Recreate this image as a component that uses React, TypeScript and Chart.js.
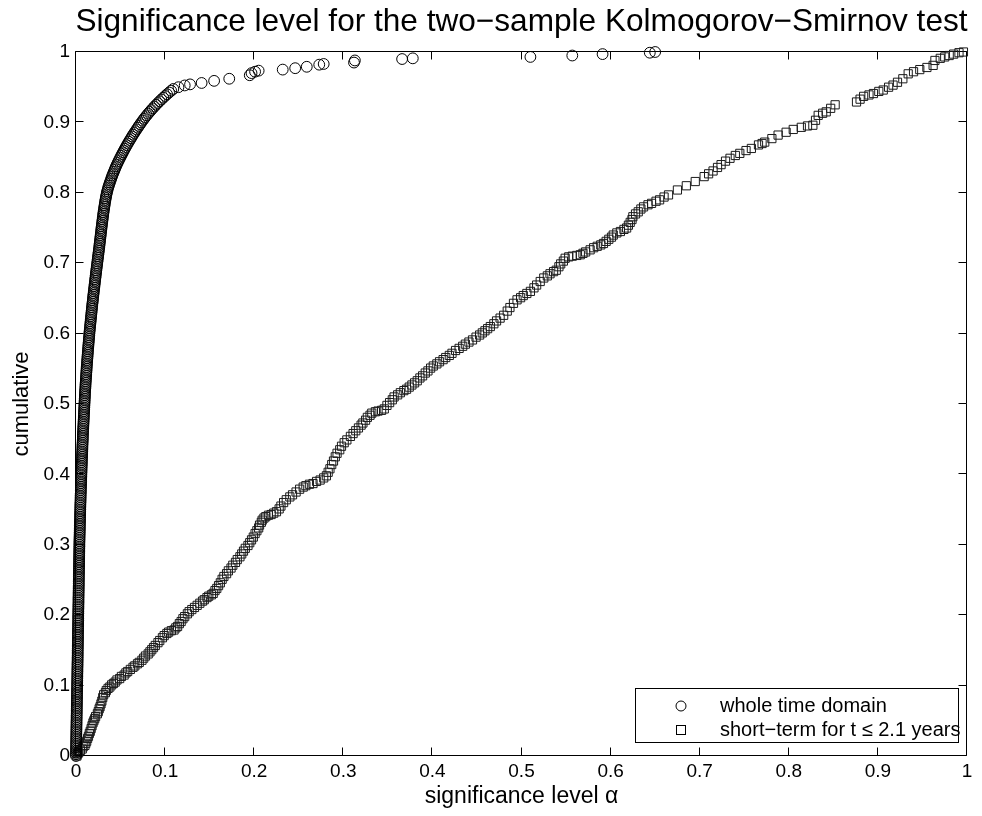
import React, { useEffect, useRef } from 'react';
import { Chart, registerables } from 'chart.js';

Chart.register(...registerables);

const TITLE = 'Significance level for the two\u2212sample Kolmogorov\u2212Smirnov test';
const X_LABEL = 'significance level \u03b1';
const Y_LABEL = 'cumulative';
const LEGEND_LABELS = ['whole time domain', 'short\u2212term for t \u2264 2.1 years'];

const xTickValues = [0, 0.1, 0.2, 0.3, 0.4, 0.5, 0.6, 0.7, 0.8, 0.9, 1];
const yTickValues = [0, 0.1, 0.2, 0.3, 0.4, 0.5, 0.6, 0.7, 0.8, 0.9, 1];

// whole time domain (circles): cumulative fraction
const wholeY = [
  0.0000, 0.0025, 0.0050, 0.0075, 0.0100, 0.0125, 0.0150, 0.0175, 0.0200, 0.0225,
  0.0250, 0.0275, 0.0300, 0.0325, 0.0350, 0.0375, 0.0400, 0.0425, 0.0450, 0.0475,
  0.0500, 0.0525, 0.0550, 0.0575, 0.0600, 0.0625, 0.0650, 0.0675, 0.0700, 0.0725,
  0.0750, 0.0775, 0.0800, 0.0825, 0.0850, 0.0875, 0.0900, 0.0925, 0.0950, 0.0975,
  0.1000, 0.1025, 0.1050, 0.1075, 0.1100, 0.1125, 0.1150, 0.1175, 0.1200, 0.1225,
  0.1250, 0.1275, 0.1300, 0.1325, 0.1350, 0.1375, 0.1400, 0.1425, 0.1450, 0.1475,
  0.1500, 0.1525, 0.1550, 0.1575, 0.1600, 0.1625, 0.1650, 0.1675, 0.1700, 0.1725,
  0.1750, 0.1775, 0.1800, 0.1825, 0.1850, 0.1875, 0.1900, 0.1925, 0.1950, 0.1975,
  0.2000, 0.2025, 0.2050, 0.2075, 0.2100, 0.2125, 0.2150, 0.2175, 0.2200, 0.2225,
  0.2250, 0.2275, 0.2300, 0.2325, 0.2350, 0.2375, 0.2400, 0.2425, 0.2450, 0.2475,
  0.2500, 0.2525, 0.2550, 0.2575, 0.2600, 0.2625, 0.2650, 0.2675, 0.2700, 0.2725,
  0.2750, 0.2775, 0.2800, 0.2825, 0.2850, 0.2875, 0.2900, 0.2925, 0.2950, 0.2975,
  0.3000, 0.3025, 0.3050, 0.3075, 0.3100, 0.3125, 0.3150, 0.3175, 0.3200, 0.3225,
  0.3250, 0.3275, 0.3300, 0.3325, 0.3350, 0.3375, 0.3400, 0.3425, 0.3450, 0.3475,
  0.3500, 0.3525, 0.3550, 0.3575, 0.3600, 0.3625, 0.3650, 0.3675, 0.3700, 0.3725,
  0.3750, 0.3775, 0.3800, 0.3825, 0.3850, 0.3875, 0.3900, 0.3925, 0.3950, 0.3975,
  0.4000, 0.4025, 0.4050, 0.4075, 0.4100, 0.4125, 0.4150, 0.4175, 0.4200, 0.4225,
  0.4250, 0.4275, 0.4300, 0.4325, 0.4350, 0.4375, 0.4400, 0.4425, 0.4450, 0.4475,
  0.4500, 0.4525, 0.4550, 0.4575, 0.4600, 0.4625, 0.4650, 0.4675, 0.4700, 0.4725,
  0.4750, 0.4775, 0.4800, 0.4825, 0.4850, 0.4875, 0.4900, 0.4925, 0.4950, 0.4975,
  0.5000, 0.5025, 0.5050, 0.5075, 0.5100, 0.5125, 0.5150, 0.5175, 0.5200, 0.5225,
  0.5250, 0.5275, 0.5300, 0.5325, 0.5350, 0.5375, 0.5400, 0.5425, 0.5450, 0.5475,
  0.5500, 0.5525, 0.5550, 0.5575, 0.5600, 0.5625, 0.5650, 0.5675, 0.5700, 0.5725,
  0.5750, 0.5775, 0.5800, 0.5825, 0.5850, 0.5875, 0.5900, 0.5925, 0.5950, 0.5975,
  0.6000, 0.6025, 0.6050, 0.6075, 0.6100, 0.6125, 0.6150, 0.6175, 0.6200, 0.6225,
  0.6250, 0.6275, 0.6300, 0.6325, 0.6350, 0.6375, 0.6400, 0.6425, 0.6450, 0.6475,
  0.6500, 0.6525, 0.6550, 0.6575, 0.6600, 0.6625, 0.6650, 0.6675, 0.6700, 0.6725,
  0.6750, 0.6775, 0.6800, 0.6825, 0.6850, 0.6875, 0.6900, 0.6925, 0.6950, 0.6975,
  0.7000, 0.7025, 0.7050, 0.7075, 0.7100, 0.7125, 0.7150, 0.7175, 0.7200, 0.7225,
  0.7250, 0.7275, 0.7300, 0.7325, 0.7350, 0.7375, 0.7400, 0.7425, 0.7450, 0.7475,
  0.7500, 0.7525, 0.7550, 0.7575, 0.7600, 0.7625, 0.7650, 0.7675, 0.7700, 0.7725,
  0.7750, 0.7775, 0.7800, 0.7825, 0.7850, 0.7875, 0.7900, 0.7925, 0.7950, 0.7975,
  0.8000, 0.8025, 0.8050, 0.8075, 0.8100, 0.8125, 0.8150, 0.8175, 0.8200, 0.8225,
  0.8250, 0.8275, 0.8300, 0.8325, 0.8350, 0.8375, 0.8400, 0.8425, 0.8450, 0.8475,
  0.8500, 0.8525, 0.8550, 0.8575, 0.8600, 0.8625, 0.8650, 0.8675, 0.8700, 0.8725,
  0.8750, 0.8775, 0.8800, 0.8825, 0.8850, 0.8875, 0.8900, 0.8925, 0.8950, 0.8975,
  0.9000, 0.9025, 0.9050, 0.9075, 0.9100, 0.9125, 0.9150, 0.9175, 0.9200, 0.9225,
  0.9250, 0.9275, 0.9300, 0.9325, 0.9350, 0.9375, 0.9400, 0.9425, 0.9450, 0.9475,
  0.9500, 0.9525, 0.9540, 0.9560, 0.9590, 0.9620, 0.9670, 0.9700, 0.9720, 0.9735,
  0.9750, 0.9770, 0.9790, 0.9820, 0.9830, 0.9850, 0.9880, 0.9900, 0.9910, 0.9930,
  0.9950, 0.9970, 0.9990, 1.0000,
];
// whole time domain (circles): significance level
const wholeX = [
  0.0000, 0.0000, 0.0000, 0.0001, 0.0001, 0.0001, 0.0002, 0.0002, 0.0002, 0.0003,
  0.0003, 0.0003, 0.0004, 0.0004, 0.0004, 0.0005, 0.0005, 0.0005, 0.0006, 0.0006,
  0.0006, 0.0007, 0.0007, 0.0007, 0.0008, 0.0008, 0.0008, 0.0009, 0.0009, 0.0009,
  0.0010, 0.0010, 0.0010, 0.0011, 0.0011, 0.0011, 0.0012, 0.0012, 0.0012, 0.0013,
  0.0013, 0.0013, 0.0014, 0.0014, 0.0014, 0.0015, 0.0015, 0.0015, 0.0016, 0.0016,
  0.0016, 0.0017, 0.0017, 0.0017, 0.0018, 0.0018, 0.0018, 0.0019, 0.0019, 0.0019,
  0.0019, 0.0020, 0.0020, 0.0020, 0.0021, 0.0021, 0.0021, 0.0022, 0.0022, 0.0022,
  0.0022, 0.0023, 0.0023, 0.0023, 0.0024, 0.0024, 0.0024, 0.0025, 0.0025, 0.0025,
  0.0025, 0.0026, 0.0026, 0.0026, 0.0027, 0.0027, 0.0027, 0.0028, 0.0028, 0.0028,
  0.0028, 0.0029, 0.0029, 0.0029, 0.0030, 0.0030, 0.0030, 0.0031, 0.0031, 0.0031,
  0.0031, 0.0032, 0.0032, 0.0032, 0.0033, 0.0033, 0.0033, 0.0034, 0.0034, 0.0034,
  0.0035, 0.0035, 0.0035, 0.0036, 0.0036, 0.0036, 0.0037, 0.0037, 0.0037, 0.0038,
  0.0038, 0.0038, 0.0039, 0.0039, 0.0040, 0.0040, 0.0041, 0.0041, 0.0042, 0.0042,
  0.0043, 0.0043, 0.0044, 0.0044, 0.0045, 0.0045, 0.0046, 0.0046, 0.0047, 0.0047,
  0.0048, 0.0048, 0.0049, 0.0049, 0.0050, 0.0051, 0.0051, 0.0052, 0.0052, 0.0053,
  0.0054, 0.0054, 0.0055, 0.0056, 0.0056, 0.0057, 0.0058, 0.0058, 0.0059, 0.0060,
  0.0060, 0.0061, 0.0062, 0.0062, 0.0063, 0.0064, 0.0065, 0.0065, 0.0066, 0.0067,
  0.0068, 0.0068, 0.0069, 0.0070, 0.0071, 0.0072, 0.0072, 0.0073, 0.0074, 0.0075,
  0.0076, 0.0077, 0.0077, 0.0078, 0.0079, 0.0080, 0.0081, 0.0082, 0.0083, 0.0084,
  0.0085, 0.0086, 0.0087, 0.0088, 0.0089, 0.0090, 0.0091, 0.0092, 0.0093, 0.0094,
  0.0095, 0.0096, 0.0097, 0.0098, 0.0099, 0.0100, 0.0101, 0.0102, 0.0103, 0.0105,
  0.0106, 0.0107, 0.0108, 0.0110, 0.0111, 0.0112, 0.0114, 0.0115, 0.0116, 0.0118,
  0.0119, 0.0120, 0.0122, 0.0123, 0.0125, 0.0126, 0.0128, 0.0129, 0.0131, 0.0132,
  0.0134, 0.0135, 0.0137, 0.0139, 0.0140, 0.0142, 0.0144, 0.0145, 0.0147, 0.0149,
  0.0150, 0.0152, 0.0154, 0.0156, 0.0158, 0.0160, 0.0162, 0.0164, 0.0166, 0.0168,
  0.0170, 0.0172, 0.0174, 0.0176, 0.0178, 0.0180, 0.0182, 0.0184, 0.0187, 0.0189,
  0.0191, 0.0193, 0.0195, 0.0198, 0.0200, 0.0202, 0.0205, 0.0207, 0.0209, 0.0212,
  0.0214, 0.0216, 0.0219, 0.0221, 0.0223, 0.0226, 0.0228, 0.0231, 0.0233, 0.0236,
  0.0238, 0.0241, 0.0243, 0.0246, 0.0248, 0.0251, 0.0253, 0.0256, 0.0258, 0.0261,
  0.0263, 0.0265, 0.0268, 0.0270, 0.0272, 0.0275, 0.0277, 0.0279, 0.0282, 0.0284,
  0.0286, 0.0289, 0.0291, 0.0294, 0.0296, 0.0299, 0.0301, 0.0304, 0.0306, 0.0309,
  0.0312, 0.0315, 0.0318, 0.0321, 0.0324, 0.0327, 0.0331, 0.0334, 0.0338, 0.0342,
  0.0346, 0.0351, 0.0356, 0.0362, 0.0368, 0.0374, 0.0381, 0.0388, 0.0395, 0.0402,
  0.0409, 0.0417, 0.0425, 0.0433, 0.0441, 0.0449, 0.0458, 0.0467, 0.0477, 0.0487,
  0.0497, 0.0507, 0.0517, 0.0527, 0.0537, 0.0548, 0.0559, 0.0570, 0.0581, 0.0593,
  0.0605, 0.0617, 0.0629, 0.0641, 0.0654, 0.0667, 0.0680, 0.0693, 0.0706, 0.0720,
  0.0734, 0.0748, 0.0763, 0.0778, 0.0794, 0.0810, 0.0827, 0.0844, 0.0862, 0.0880,
  0.0899, 0.0918, 0.0938, 0.0958, 0.0979, 0.1000, 0.1022, 0.1045, 0.1068, 0.1092,
  0.1150, 0.1220, 0.1280, 0.1410, 0.1550, 0.1720, 0.1950, 0.1970, 0.2010, 0.2050,
  0.2320, 0.2460, 0.2590, 0.2730, 0.2780, 0.3120, 0.3130, 0.3660, 0.3780, 0.5100,
  0.5570, 0.5910, 0.6440, 0.6500,
];

// short-term for t <= 2.1 years (squares): [significance level, cumulative]
const shortTerm: [number, number][] = [
  [0.001, 0.000], [0.002, 0.003], [0.003, 0.005], [0.005, 0.008], [0.007, 0.010],
  [0.008, 0.013], [0.010, 0.015], [0.011, 0.018], [0.012, 0.021], [0.013, 0.025],
  [0.014, 0.028], [0.015, 0.032], [0.016, 0.035], [0.017, 0.039], [0.018, 0.043],
  [0.019, 0.047], [0.020, 0.050], [0.021, 0.053], [0.022, 0.056], [0.024, 0.060],
  [0.025, 0.063], [0.026, 0.067], [0.027, 0.070], [0.028, 0.074], [0.029, 0.078],
  [0.030, 0.083], [0.031, 0.087], [0.033, 0.090], [0.034, 0.093], [0.036, 0.096],
  [0.038, 0.098], [0.040, 0.101], [0.042, 0.103], [0.044, 0.105], [0.046, 0.108],
  [0.049, 0.110], [0.051, 0.113], [0.054, 0.115], [0.056, 0.118], [0.058, 0.120],
  [0.061, 0.123], [0.064, 0.126], [0.066, 0.128], [0.069, 0.131], [0.071, 0.133],
  [0.074, 0.136], [0.076, 0.139], [0.078, 0.142], [0.081, 0.145], [0.083, 0.148],
  [0.085, 0.151], [0.087, 0.154], [0.089, 0.157], [0.092, 0.161], [0.094, 0.164],
  [0.097, 0.168], [0.099, 0.171], [0.102, 0.174], [0.104, 0.176], [0.107, 0.178],
  [0.110, 0.179], [0.112, 0.182], [0.114, 0.184], [0.116, 0.188], [0.118, 0.191],
  [0.120, 0.195], [0.122, 0.198], [0.125, 0.202], [0.127, 0.205], [0.130, 0.208],
  [0.133, 0.211], [0.136, 0.214], [0.139, 0.217], [0.142, 0.220], [0.144, 0.222],
  [0.147, 0.225], [0.149, 0.227], [0.152, 0.229], [0.154, 0.231], [0.156, 0.235],
  [0.158, 0.238], [0.160, 0.242], [0.162, 0.246], [0.164, 0.251], [0.166, 0.255],
  [0.169, 0.259], [0.171, 0.263], [0.174, 0.267], [0.176, 0.271], [0.179, 0.275],
  [0.181, 0.279], [0.184, 0.283], [0.186, 0.287], [0.188, 0.291], [0.190, 0.295],
  [0.193, 0.299], [0.195, 0.303], [0.197, 0.307], [0.199, 0.311], [0.201, 0.316],
  [0.203, 0.320], [0.205, 0.324], [0.206, 0.328], [0.208, 0.332], [0.209, 0.335],
  [0.211, 0.338], [0.213, 0.340], [0.216, 0.342], [0.219, 0.343], [0.222, 0.345],
  [0.225, 0.347], [0.228, 0.351], [0.230, 0.355], [0.233, 0.360], [0.236, 0.364],
  [0.240, 0.368], [0.243, 0.371], [0.247, 0.375], [0.251, 0.379], [0.255, 0.382],
  [0.258, 0.384], [0.262, 0.386], [0.266, 0.387], [0.270, 0.390], [0.274, 0.392],
  [0.278, 0.395], [0.281, 0.398], [0.283, 0.403], [0.285, 0.408], [0.287, 0.414],
  [0.289, 0.419], [0.291, 0.425], [0.293, 0.430], [0.296, 0.435], [0.298, 0.440],
  [0.301, 0.445], [0.304, 0.449], [0.308, 0.454], [0.311, 0.458], [0.314, 0.462],
  [0.317, 0.466], [0.320, 0.470], [0.322, 0.473], [0.325, 0.477], [0.327, 0.481],
  [0.330, 0.484], [0.332, 0.487], [0.336, 0.489], [0.339, 0.490], [0.343, 0.491],
  [0.346, 0.493], [0.349, 0.498], [0.352, 0.502], [0.355, 0.506], [0.357, 0.510],
  [0.361, 0.513], [0.364, 0.516], [0.368, 0.519], [0.371, 0.521], [0.374, 0.524],
  [0.377, 0.527], [0.380, 0.530], [0.383, 0.533], [0.386, 0.537], [0.389, 0.540],
  [0.392, 0.544], [0.395, 0.547], [0.398, 0.551], [0.401, 0.554], [0.405, 0.557],
  [0.408, 0.560], [0.412, 0.563], [0.415, 0.566], [0.419, 0.569], [0.422, 0.572],
  [0.426, 0.576], [0.430, 0.579], [0.434, 0.582], [0.437, 0.585], [0.441, 0.588],
  [0.445, 0.591], [0.449, 0.595], [0.453, 0.598], [0.456, 0.601], [0.459, 0.604],
  [0.462, 0.607], [0.465, 0.610], [0.469, 0.614], [0.472, 0.618], [0.476, 0.622],
  [0.480, 0.626], [0.484, 0.632], [0.487, 0.637], [0.491, 0.643], [0.495, 0.648],
  [0.499, 0.651], [0.502, 0.654], [0.506, 0.657], [0.510, 0.660], [0.514, 0.665],
  [0.517, 0.669], [0.521, 0.674], [0.525, 0.679], [0.529, 0.682], [0.532, 0.685],
  [0.536, 0.688], [0.539, 0.690], [0.542, 0.695], [0.544, 0.699], [0.547, 0.703],
  [0.549, 0.707], [0.553, 0.709], [0.557, 0.710], [0.562, 0.711], [0.566, 0.712],
  [0.569, 0.714], [0.572, 0.716], [0.577, 0.719], [0.581, 0.722], [0.585, 0.724],
  [0.589, 0.726], [0.592, 0.728], [0.595, 0.731], [0.598, 0.734], [0.601, 0.737],
  [0.603, 0.740], [0.607, 0.743], [0.611, 0.745], [0.615, 0.748], [0.618, 0.750],
  [0.620, 0.754], [0.622, 0.758], [0.624, 0.762], [0.625, 0.766], [0.628, 0.770],
  [0.631, 0.773], [0.634, 0.777], [0.637, 0.780], [0.642, 0.783], [0.646, 0.785],
  [0.651, 0.788], [0.655, 0.790], [0.660, 0.794], [0.665, 0.797], [0.675, 0.804],
  [0.685, 0.810], [0.695, 0.816], [0.705, 0.823], [0.710, 0.827], [0.715, 0.831],
  [0.720, 0.836], [0.724, 0.840], [0.729, 0.845], [0.734, 0.849], [0.740, 0.853],
  [0.745, 0.856], [0.752, 0.860], [0.758, 0.863], [0.766, 0.868], [0.770, 0.870],
  [0.773, 0.872], [0.781, 0.877], [0.788, 0.882], [0.797, 0.886], [0.805, 0.890],
  [0.814, 0.893], [0.821, 0.895], [0.827, 0.896], [0.830, 0.903], [0.833, 0.910],
  [0.838, 0.913], [0.842, 0.915], [0.847, 0.920], [0.852, 0.925], [0.876, 0.929],
  [0.880, 0.933], [0.884, 0.937], [0.890, 0.939], [0.895, 0.941], [0.901, 0.944],
  [0.906, 0.946], [0.912, 0.950], [0.917, 0.953], [0.922, 0.957], [0.928, 0.962],
  [0.934, 0.969], [0.940, 0.972], [0.947, 0.975], [0.955, 0.978], [0.962, 0.981],
  [0.964, 0.988], [0.970, 0.991], [0.975, 0.993], [0.980, 0.995], [0.985, 0.997],
  [0.991, 0.999], [0.996, 1.000],
];

const FONT = '"Liberation Sans", Arial, Helvetica, sans-serif';

function fmtTick(v: number): string {
  if (Math.abs(v) < 1e-9) return '0';
  if (Math.abs(v - 1) < 1e-9) return '1';
  return v.toFixed(1);
}

const decorPlugin = {
  id: 'matlabDecor',
  beforeDatasetsDraw(chart: any) {
    const { ctx, chartArea } = chart;
    const { left, right, top, bottom } = chartArea;
    const xs = chart.scales.x;
    const ys = chart.scales.y;
    ctx.save();
    ctx.strokeStyle = '#000';
    ctx.lineWidth = 1;
    const L = Math.round(left) - 0.5;
    const R = Math.round(right) - 0.5;
    const T = Math.round(top) - 0.5;
    const B = Math.round(bottom) - 0.5;
    ctx.beginPath();
    ctx.rect(L, T, R - L, B - T);
    ctx.stroke();
    const tl = 8;
    ctx.beginPath();
    xTickValues.forEach((v) => {
      const px = Math.round(xs.getPixelForValue(v)) - 0.5;
      ctx.moveTo(px, B);
      ctx.lineTo(px, B - tl);
      ctx.moveTo(px, T);
      ctx.lineTo(px, T + tl);
    });
    yTickValues.forEach((v) => {
      const py = Math.round(ys.getPixelForValue(v)) - 0.5;
      ctx.moveTo(L, py);
      ctx.lineTo(L + tl, py);
      ctx.moveTo(R, py);
      ctx.lineTo(R - tl, py);
    });
    ctx.stroke();
    ctx.restore();
  },
  afterDraw(chart: any) {
    const { ctx, chartArea } = chart;
    const { left, right, top, bottom } = chartArea;
    const cx = (left + right) / 2;
    const cy = (top + bottom) / 2;
    ctx.save();
    ctx.fillStyle = '#000';
    ctx.font = `31.6px ${FONT}`;
    ctx.textAlign = 'center';
    ctx.textBaseline = 'alphabetic';
    ctx.fillText(TITLE, cx, 31);
    ctx.font = `23px ${FONT}`;
    ctx.fillText(X_LABEL, cx, 803);
    ctx.save();
    ctx.translate(28, cy);
    ctx.rotate(-Math.PI / 2);
    ctx.textAlign = 'center';
    ctx.textBaseline = 'alphabetic';
    ctx.font = `22px ${FONT}`;
    ctx.fillText(Y_LABEL, 0, 0);
    ctx.restore();

    // legend
    const lx = 635.5, ly = 688.5, lw = 323, lh = 54;
    ctx.fillStyle = '#fff';
    ctx.fillRect(lx, ly, lw, lh);
    ctx.strokeStyle = '#000';
    ctx.lineWidth = 1;
    ctx.strokeRect(lx, ly, lw, lh);
    ctx.beginPath();
    ctx.arc(681, 706, 5, 0, Math.PI * 2);
    ctx.stroke();
    ctx.strokeRect(676.5, 725.5, 9, 9);
    ctx.fillStyle = '#000';
    ctx.font = `20px ${FONT}`;
    ctx.textAlign = 'left';
    ctx.textBaseline = 'middle';
    ctx.fillText(LEGEND_LABELS[0], 720, 706);
    ctx.fillText(LEGEND_LABELS[1], 720, 730);
    ctx.restore();
  },
};

export default function App() {
  const canvasRef = useRef<HTMLCanvasElement | null>(null);

  useEffect(() => {
    document.body.style.margin = '0';
    const canvas = canvasRef.current;
    if (!canvas) return;
    const chart = new Chart(canvas, {
      type: 'scatter',
      data: {
        datasets: [
          {
            label: LEGEND_LABELS[0],
            data: wholeX.map((x, i) => ({ x, y: wholeY[i] })),
            pointStyle: 'circle',
            pointRadius: 5.4,
            borderColor: '#000',
            backgroundColor: 'rgba(0,0,0,0)',
            borderWidth: 1,
            clip: false,
          } as any,
          {
            label: LEGEND_LABELS[1],
            data: shortTerm.map(([x, y]) => ({ x, y })),
            pointStyle: 'rect',
            pointRadius: 5.8,
            borderColor: '#1a1a1a',
            backgroundColor: 'rgba(0,0,0,0)',
            borderWidth: 1,
            clip: false,
          } as any,
        ],
      },
      options: {
        responsive: false,
        animation: false,
        events: [],
        layout: { padding: { left: 0, top: 52, right: 15, bottom: 0 } },
        plugins: {
          legend: { display: false },
          title: { display: false },
          tooltip: { enabled: false },
        },
        scales: {
          x: {
            type: 'linear',
            min: 0,
            max: 1,
            afterBuildTicks: (s: any) => {
              s.ticks = xTickValues.map((v) => ({ value: v }));
            },
            afterFit: (s: any) => {
              s.height = 60;
            },
            grid: { display: false, drawTicks: false, tickLength: 0 },
            border: { display: false },
            ticks: {
              color: '#000',
              font: { family: FONT, size: 19 },
              padding: 4,
              maxRotation: 0,
              autoSkip: false,
              callback: (v: any) => fmtTick(Number(v)),
            },
          },
          y: {
            type: 'linear',
            min: 0,
            max: 1,
            afterBuildTicks: (s: any) => {
              s.ticks = yTickValues.map((v) => ({ value: v }));
            },
            afterFit: (s: any) => {
              s.width = 76;
            },
            grid: { display: false, drawTicks: false, tickLength: 0 },
            border: { display: false },
            ticks: {
              color: '#000',
              font: { family: FONT, size: 19 },
              padding: 6,
              autoSkip: false,
              callback: (v: any) => fmtTick(Number(v)),
            },
          },
        },
      },
      plugins: [decorPlugin],
    } as any);
    return () => chart.destroy();
  }, []);

  return (
    <div style={{ position: 'absolute', left: 0, top: 0, width: 982, height: 816, background: '#fff' }}>
      <canvas ref={canvasRef} width={982} height={816} style={{ display: 'block', width: 982, height: 816 }} />
    </div>
  );
}
